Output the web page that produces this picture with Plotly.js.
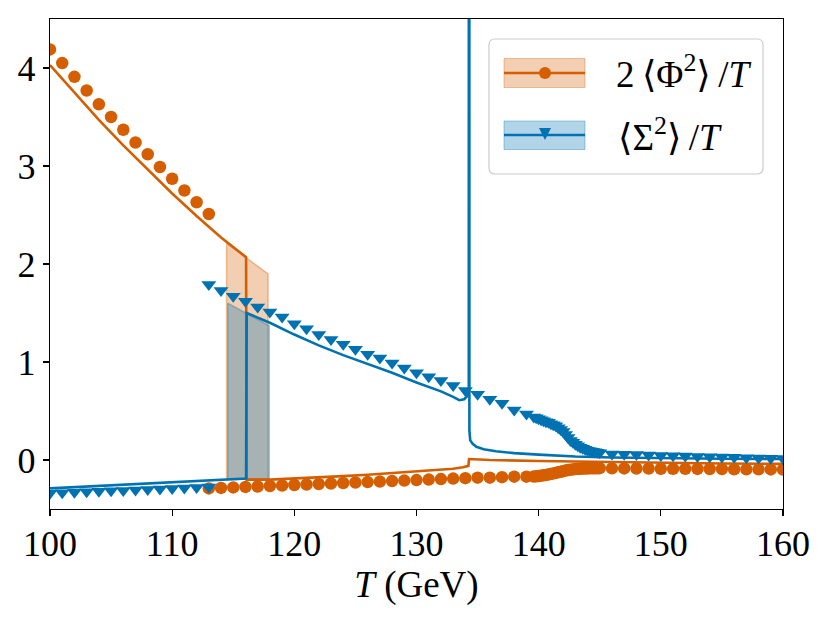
<!DOCTYPE html>
<html>
<head>
<meta charset="utf-8">
<script src="https://cdn.plot.ly/plotly-3.0.1.min.js"></script>
<style>html,body{margin:0;padding:0;background:#fff;}</style>
</head>
<body>
<div id="chart" style="width:830px;height:623px;"></div>
<script>
// ---------- data ----------
const ORANGE = '#D55E00';
const BLUE = '#0072B2';

// 2<Phi^2>/T : model curve
const phiLineT = [100, 102, 104, 106, 108, 110, 112, 114, 116.05, 116.1, 118, 120, 122, 124, 126, 128, 130, 132, 133, 133.8, 134.25, 134.3, 136, 140, 145, 150, 155, 160];
const phiLineV = [4.03, 3.75, 3.47, 3.21, 2.96, 2.72, 2.49, 2.27, 2.07, -0.20, -0.20, -0.19, -0.175, -0.165, -0.15, -0.135, -0.12, -0.10, -0.09, -0.075, -0.06, 0.01, 0.0, -0.01, -0.02, -0.03, -0.035, -0.04];

// 2<Phi^2>/T : lattice points
const phiPtsT = [100, 101, 102, 103, 104, 105, 106, 107, 108, 109, 110, 111, 112, 113,
  113, 114, 115, 116, 117, 118, 119, 120, 121, 122, 123, 124, 125, 126, 127, 128, 129, 130, 131, 132, 133, 134, 135, 136, 137, 138, 139,
  139.6, 139.8, 140.0, 140.2, 140.4, 140.6, 140.8, 141.0, 141.2, 141.4, 141.6, 141.8, 142.0, 142.2, 142.4, 142.6, 142.8, 143.0, 143.2, 143.4, 143.6, 143.8, 144.0, 144.2, 144.4, 144.6, 144.8, 145.0,
  146, 147, 148, 149, 150, 151, 152, 153, 154, 155, 156, 157, 158, 159, 160];
const phiPtsV = [4.19, 4.05, 3.91, 3.77, 3.63, 3.50, 3.37, 3.24, 3.12, 2.99, 2.87, 2.75, 2.63, 2.51,
  -0.29, -0.285, -0.28, -0.275, -0.27, -0.265, -0.26, -0.255, -0.25, -0.245, -0.24, -0.235, -0.23, -0.225, -0.22, -0.215, -0.21, -0.205, -0.20, -0.195, -0.19, -0.185, -0.18, -0.18, -0.175, -0.17, -0.17,
  -0.168, -0.166, -0.163, -0.16, -0.156, -0.152, -0.147, -0.142, -0.137, -0.132, -0.126, -0.12, -0.114, -0.108, -0.103, -0.099, -0.096, -0.093, -0.091, -0.089, -0.088, -0.087, -0.086, -0.085, -0.085, -0.084, -0.084, -0.083,
  -0.085, -0.086, -0.087, -0.088, -0.089, -0.09, -0.09, -0.091, -0.092, -0.093, -0.094, -0.095, -0.095, -0.096, -0.097];

// <Sigma^2>/T : model curve
const sigLineT = [100, 104, 108, 112, 116.05, 116.1, 117, 118, 120, 122, 124, 126, 128, 130, 131, 132, 133, 133.5, 133.9, 134.2, 134.28, 134.3, 134.33, 134.4, 134.6, 134.9, 135.5, 136.5, 138, 140, 143, 146, 150, 155, 160];
const sigLineV = [-0.29, -0.265, -0.24, -0.215, -0.19, 1.50, 1.45, 1.40, 1.28, 1.17, 1.07, 0.98, 0.89, 0.79, 0.745, 0.70, 0.645, 0.61, 0.62, 0.66, 0.72, 30, 0.3, 0.2, 0.165, 0.135, 0.11, 0.09, 0.07, 0.055, 0.035, 0.025, 0.018, 0.013, 0.01];

// <Sigma^2>/T : lattice points
const sigPtsT = [100, 101, 102, 103, 104, 105, 106, 107, 108, 109, 110, 111, 112, 113,
  113, 114, 115, 116, 117, 118, 119, 120, 121, 122, 123, 124, 125, 126, 127, 128, 129, 130, 131, 132, 133, 134, 135, 136, 137, 138, 139,
  139.6, 139.8, 140.0, 140.2, 140.4, 140.6, 140.8, 141.0, 141.2, 141.4, 141.6, 141.8, 142.0, 142.2, 142.4, 142.6, 142.8, 143.0, 143.2, 143.4, 143.6, 143.8, 144.0, 144.2, 144.4, 144.6, 144.8, 145.0,
  146, 147, 148, 149, 150, 151, 152, 153, 154, 155, 156, 157, 158, 159, 160];
const sigPtsV = [-0.34, -0.335, -0.33, -0.325, -0.32, -0.315, -0.31, -0.305, -0.30, -0.295, -0.29, -0.285, -0.28, -0.275,
  1.79, 1.73, 1.67, 1.62, 1.56, 1.51, 1.46, 1.39, 1.34, 1.28, 1.23, 1.18, 1.13, 1.08, 1.04, 0.99, 0.94, 0.89, 0.85, 0.81, 0.76, 0.71, 0.67, 0.62, 0.58, 0.51, 0.47,
  0.44, 0.43, 0.42, 0.41, 0.40, 0.39, 0.385, 0.37, 0.36, 0.35, 0.33, 0.31, 0.29, 0.26, 0.23, 0.20, 0.18, 0.16, 0.145, 0.13, 0.12, 0.11, 0.10, 0.095, 0.09, 0.085, 0.08, 0.075,
  0.062, 0.058, 0.055, 0.05, 0.046, 0.043, 0.04, 0.036, 0.033, 0.03, 0.027, 0.024, 0.021, 0.018, 0.015];

// transition-temperature bands: [T_left, T_right], top edge at each, bottom edge at each
const phiBandT = [114.45, 117.85];
const phiBandTop = [2.21, 1.90];
const phiBandBot = [-0.20, -0.19];
const sigBandT = [114.55, 117.95];
const sigBandTop = [1.60, 1.37];
const sigBandBot = [-0.20, -0.19];

// axis ticks
const xTicks = [100, 110, 120, 130, 140, 150, 160];
const yTicks = [0, 1, 2, 3, 4];

// legend labels
const legendLabels = ['2\u2009⟨Φ<sup>2</sup>⟩\u2009/<i>T</i>', '⟨Σ<sup>2</sup>⟩\u2009/<i>T</i>'];

// ---------- build ----------
function band(t, top, bot) {
  return { x: [t[0], t[1], t[1], t[0], t[0]], y: [top[0], top[1], bot[1], bot[0], top[0]] };
}
const pb = band(phiBandT, phiBandTop, phiBandBot);
const sb = band(sigBandT, sigBandTop, sigBandBot);

const traces = [
  { x: pb.x, y: pb.y, mode: 'lines', fill: 'toself', fillcolor: 'rgba(213,94,0,0.3)',
    line: { color: 'rgba(213,94,0,0.35)', width: 1.5 }, showlegend: false, hoverinfo: 'skip' },
  { x: sb.x, y: sb.y, mode: 'lines', fill: 'toself', fillcolor: 'rgba(0,114,178,0.3)',
    line: { color: 'rgba(0,114,178,0.35)', width: 1.5 }, showlegend: false, hoverinfo: 'skip' },
  { x: phiLineT, y: phiLineV, mode: 'lines', line: { color: ORANGE, width: 2.6 }, showlegend: false },
  { x: phiPtsT, y: phiPtsV, mode: 'markers', marker: { color: ORANGE, size: 12.5, symbol: 'circle' }, showlegend: false },
  { x: sigLineT, y: sigLineV, mode: 'lines', line: { color: BLUE, width: 2.6 }, showlegend: false },
  { x: sigPtsT, y: sigPtsV, mode: 'markers', marker: { color: BLUE, size: 13, symbol: 'triangle-down' }, showlegend: false }
];

// legend geometry helpers (pixel -> paper)
const L = 50, R = 783, T = 19, B = 509;
const px = v => (v - L) / (R - L);
const py = v => (B - v) / (B - T);

function roundRect(x0, y0, x1, y1, r) {
  const rx = r / (R - L), ry = r / (B - T);
  const X0 = px(x0), X1 = px(x1), Y0 = py(y0), Y1 = py(y1);
  return `M${X0 + rx},${Y0} L${X1 - rx},${Y0} Q${X1},${Y0} ${X1},${Y0 - ry} L${X1},${Y1 + ry} Q${X1},${Y1} ${X1 - rx},${Y1} L${X0 + rx},${Y1} Q${X0},${Y1} ${X0},${Y1 + ry} L${X0},${Y0 - ry} Q${X0},${Y0} ${X0 + rx},${Y0} Z`;
}

const shapes = [
  { type: 'path', xref: 'paper', yref: 'paper', path: roundRect(489, 39, 763, 174, 6),
    fillcolor: 'rgba(255,255,255,0.8)', line: { color: '#cccccc', width: 1.2 }, layer: 'above' },
  // orange entry
  { type: 'rect', xref: 'paper', yref: 'paper', x0: px(504), x1: px(585), y0: py(58.5), y1: py(87.5),
    fillcolor: 'rgba(213,94,0,0.3)', line: { color: 'rgba(213,94,0,0.35)', width: 1 }, layer: 'above' },
  { type: 'line', xref: 'paper', yref: 'paper', x0: px(504), x1: px(585), y0: py(73), y1: py(73),
    line: { color: ORANGE, width: 2.6 }, layer: 'above' },
  { type: 'circle', xref: 'paper', yref: 'paper', xsizemode: 'pixel', ysizemode: 'pixel',
    xanchor: px(545), yanchor: py(73), x0: -6, x1: 6, y0: -6, y1: 6,
    fillcolor: ORANGE, line: { color: ORANGE, width: 0 }, layer: 'above' },
  // blue entry
  { type: 'rect', xref: 'paper', yref: 'paper', x0: px(504), x1: px(585), y0: py(121), y1: py(149.5),
    fillcolor: 'rgba(0,114,178,0.3)', line: { color: 'rgba(0,114,178,0.35)', width: 1 }, layer: 'above' },
  { type: 'line', xref: 'paper', yref: 'paper', x0: px(504), x1: px(585), y0: py(135), y1: py(135),
    line: { color: BLUE, width: 2.6 }, layer: 'above' },
  { type: 'path', xref: 'paper', yref: 'paper', xsizemode: 'pixel', ysizemode: 'pixel',
    xanchor: px(545), yanchor: py(134), path: 'M-6,6 L6,6 L0,-6 Z',
    fillcolor: BLUE, line: { color: BLUE, width: 0 }, layer: 'above' }
];

const FONT = '"Liberation Serif", "DejaVu Serif", serif';

const annotations = [
  { xref: 'paper', yref: 'paper', x: px(614), y: py(72), xanchor: 'left', yanchor: 'middle',
    text: legendLabels[0], showarrow: false, font: { family: FONT, size: 37, color: '#000' } },
  { xref: 'paper', yref: 'paper', x: px(616), y: py(134), xanchor: 'left', yanchor: 'middle',
    text: legendLabels[1], showarrow: false, font: { family: FONT, size: 37, color: '#000' } }
];

const layout = {
  width: 830, height: 623,
  margin: { l: 50, r: 47, t: 19, b: 114 },
  paper_bgcolor: '#fff', plot_bgcolor: '#fff',
  font: { family: FONT, size: 36, color: '#000' },
  showlegend: false,
  xaxis: {
    range: [100, 160], tickvals: xTicks, ticktext: xTicks.map(String),
    ticks: 'outside', ticklen: 6, tickwidth: 1.2, tickcolor: '#000',
    showline: true, linecolor: '#000', linewidth: 1.3, mirror: true,
    showgrid: false, zeroline: false, ticklabelstandoff: -4,
    tickfont: { family: FONT, size: 36 },
    title: { text: '<i>T</i> (GeV)', font: { family: FONT, size: 37 }, standoff: 6 }
  },
  yaxis: {
    range: [-0.5, 4.5], tickvals: yTicks, ticktext: yTicks.map(String),
    ticks: 'outside', ticklen: 6, tickwidth: 1.2, tickcolor: '#000',
    showline: true, linecolor: '#000', linewidth: 1.3, mirror: true,
    showgrid: false, zeroline: false,
    tickfont: { family: FONT, size: 36 }
  },
  shapes: shapes,
  annotations: annotations
};

Plotly.newPlot('chart', traces, layout, { displayModeBar: false, staticPlot: true });
</script>
</body>
</html>
